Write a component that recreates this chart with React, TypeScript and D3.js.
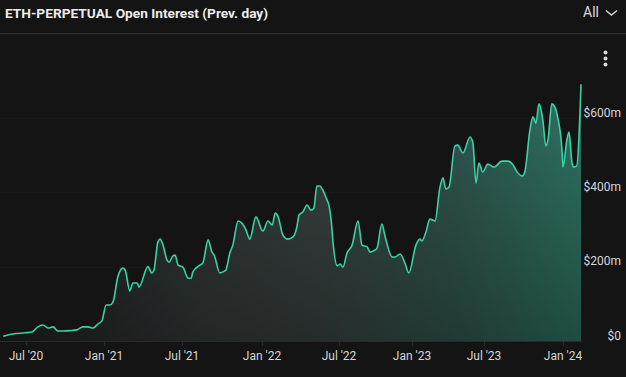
import React, { useEffect } from "react";
import * as d3 from "d3";

const oiDates = [
  "2020-05-08","2020-05-31","2020-06-29","2020-07-15","2020-07-29","2020-08-10","2020-08-22","2020-09-03",
  "2020-09-14","2020-09-26","2020-10-13","2020-10-29","2020-11-12","2020-11-24","2020-12-06","2020-12-18",
  "2020-12-27","2021-01-06","2021-01-15","2021-01-22","2021-02-02","2021-02-14","2021-02-19","2021-03-02",
  "2021-03-09","2021-03-19","2021-03-23","2021-04-13","2021-04-22","2021-04-27","2021-05-06","2021-05-11",
  "2021-05-18","2021-05-27","2021-06-01","2021-06-10","2021-06-15","2021-06-22","2021-07-03","2021-07-15",
  "2021-07-22","2021-07-26","2021-08-11","2021-08-18","2021-08-30","2021-09-08","2021-09-13","2021-09-26",
  "2021-10-03","2021-10-10","2021-10-19","2021-10-26","2021-11-07","2021-11-16","2021-11-25","2021-12-04",
  "2021-12-18","2022-01-03","2022-01-15","2022-01-25","2022-02-01","2022-02-08","2022-02-19","2022-03-03",
  "2022-03-15","2022-03-24","2022-03-29","2022-04-07","2022-04-17","2022-04-26","2022-05-03","2022-05-10",
  "2022-05-17","2022-05-24","2022-06-03","2022-06-06","2022-06-13","2022-06-17","2022-06-27","2022-07-04",
  "2022-07-11","2022-07-21","2022-08-03","2022-08-18","2022-08-28","2022-09-10","2022-09-17","2022-09-30",
  "2022-10-05","2022-10-17","2022-10-25","2022-11-12","2022-11-19","2022-12-02","2022-12-14","2022-12-24",
  "2023-01-11","2023-01-21","2023-01-26","2023-02-05","2023-02-15","2023-02-28","2023-03-12","2023-03-20",
  "2023-03-27","2023-04-04","2023-04-19","2023-04-26","2023-05-09","2023-05-27","2023-06-03","2023-06-11",
  "2023-06-18","2023-06-28","2023-07-10","2023-07-24","2023-08-12","2023-08-26","2023-09-07","2023-09-16",
  "2023-09-28","2023-10-04","2023-10-16","2023-10-23","2023-10-30","2023-11-06","2023-11-15","2023-11-22",
  "2023-11-27","2023-12-06","2023-12-13","2023-12-20","2023-12-30","2024-01-01","2024-01-10","2024-01-15",
  "2024-01-22","2024-01-26","2024-02-02","2024-02-12",
];

// Open interest in $ millions
const oiValues = [
  13, 19, 22, 24, 38, 43, 35, 38,
  27, 27, 28, 30, 38, 38, 35, 46,
  54, 97, 97, 105, 172, 196, 191, 135,
  156, 156, 145, 200, 183, 191, 266, 274,
  258, 218, 212, 229, 231, 204, 199, 169,
  169, 186, 204, 210, 272, 239, 231, 183,
  186, 191, 237, 258, 323, 317, 299, 274,
  334, 296, 323, 312, 344, 334, 285, 274,
  280, 307, 339, 347, 366, 352, 358, 417,
  417, 406, 379, 371, 320, 265, 202, 207,
  199, 236, 258, 323, 258, 253, 239, 245,
  250, 315, 282, 226, 226, 234, 210, 183,
  258, 274, 269, 293, 328, 323, 412, 439,
  409, 414, 525, 527, 506, 549, 533, 425,
  479, 455, 476, 468, 484, 484, 473, 455,
  444, 455, 568, 603, 586, 638, 595, 525,
  541, 638, 630, 600, 508, 468, 541, 562,
  479, 468, 471, 691,
];

const xTickDates = ["2020-07-01","2021-01-01","2021-07-01","2022-01-01","2022-07-01","2023-01-01","2023-07-01","2024-01-01"];
const xTickLabels = ["Jul '20","Jan '21","Jul '21","Jan '22","Jul '22","Jan '23","Jul '23","Jan '24"];
const yTickValues = [0, 200, 400, 600];
const yTickLabels = ["$0", "$200m", "$400m", "$600m"];

const TITLE = "ETH-PERPETUAL Open Interest (Prev. day)";

const W = 626;
const H = 377;
const BASE_Y = 341;
const TOP_Y = 118;
const PLOT_RIGHT = 582;
const TICK_X = [26, 104, 182, 262, 339, 412, 484, 563];

export default function App() {
  useEffect(() => {
    document.body.style.margin = "0";
    document.body.style.background = "#141414";
  }, []);

  const parse = d3.timeParse("%Y-%m-%d");
  const data = oiDates.map((d, i) => ({ date: parse(d) as Date, v: oiValues[i] }));
  const tickDates = xTickDates.map((d) => parse(d) as Date);

  const x = d3.scaleTime().domain(tickDates).range(TICK_X);
  const y = d3.scaleLinear().domain([0, 600]).range([BASE_Y, TOP_Y]);

  const line = d3
    .line<{ date: Date; v: number }>()
    .x((d) => x(d.date))
    .y((d) => y(d.v))
    .curve(d3.curveMonotoneX);
  const area = d3
    .area<{ date: Date; v: number }>()
    .x((d) => x(d.date))
    .y0(BASE_Y)
    .y1((d) => y(d.v))
    .curve(d3.curveMonotoneX);

  const font = "Roboto, 'Noto Sans', Arial, sans-serif";

  return (
    <svg width={W} height={H} style={{ display: "block", background: "#141414" }}>
      <defs>
        <linearGradient id="hgrad" gradientUnits="userSpaceOnUse" x1={0} y1={0} x2={582} y2={0}>
          <stop offset="0" stopColor="#1f2020" />
          <stop offset="0.35" stopColor="#343a39" />
          <stop offset="0.55" stopColor="#3a4341" />
          <stop offset="0.78" stopColor="#315750" />
          <stop offset="1" stopColor="#2f7564" />
        </linearGradient>
        <linearGradient id="vgrad" gradientUnits="userSpaceOnUse" x1={0} y1={84} x2={0} y2={BASE_Y}>
          <stop offset="0" stopColor="#000" stopOpacity={0} />
          <stop offset="1" stopColor="#000" stopOpacity={0.34} />
        </linearGradient>
      </defs>
      <rect x={0} y={0} width={W} height={H} fill="#141414" />

      {/* header */}
      <text x={5} y={17.5} fill="#ececec" fontFamily={font} fontWeight={700} fontSize={13.7}>
        {TITLE}
      </text>
      <text x={583} y={17} fill="#dcdcdc" fontFamily={font} fontSize={14}>
        All
      </text>
      <path d="M606,10.5 L611.5,15 L617,10.5" fill="none" stroke="#cfcfcf" strokeWidth={1.6} />
      <line x1={0} x2={W} y1={33.5} y2={33.5} stroke="#333" strokeWidth={1} />
      {[52.5, 58.5, 64.5].map((cy) => (
        <circle key={cy} cx={605.5} cy={cy} r={2} fill="#d8d8d8" />
      ))}

      {/* grid */}
      {yTickValues.slice(1).map((v) => (
        <line key={v} x1={0} x2={PLOT_RIGHT} y1={Math.round(y(v)) + 0.5} y2={Math.round(y(v)) + 0.5} stroke="#181818" />
      ))}

      {/* area + line */}
      <path d={area(data) || ""} fill="url(#hgrad)" />
      <path d={area(data) || ""} fill="url(#vgrad)" />
      <path d={line(data) || ""} fill="none" stroke="#38d3a5" strokeWidth={1.6} strokeLinejoin="round" />

      {/* x axis */}
      <line x1={0} x2={PLOT_RIGHT} y1={BASE_Y + 0.5} y2={BASE_Y + 0.5} stroke="#2a2a2a" />
      {tickDates.map((d, i) => (
        <g key={i}>
          <line x1={Math.round(x(d)) + 0.5} x2={Math.round(x(d)) + 0.5} y1={BASE_Y} y2={BASE_Y + 5} stroke="#2c2c2c" />
          <text x={x(d)} y={359.5} textAnchor="middle" fill="#d6d6d6" fontFamily={font} fontSize={12}>
            {xTickLabels[i]}
          </text>
        </g>
      ))}

      {/* y axis labels */}
      {yTickValues.map((v, i) => (
        <text key={v} x={621} y={y(v) - 1.5} textAnchor="end" fill="#d6d6d6" fontFamily={font} fontSize={12}>
          {yTickLabels[i]}
        </text>
      ))}
    </svg>
  );
}
